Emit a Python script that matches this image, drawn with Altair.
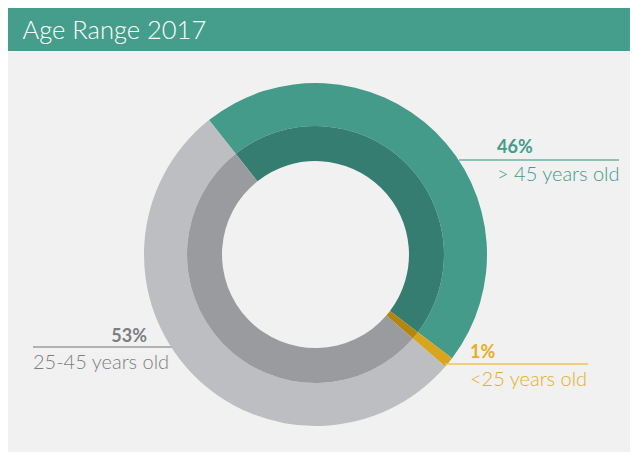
import math
import altair as alt
import pandas as pd

categories = ["> 45 years old", "<25 years old", "25-45 years old"]
values = [46, 1, 53]
pct_labels = ["46%", "1%", "53%"]

outer_colors = ["#449b8a", "#d9a51c", "#bdbec1"]
inner_colors = ["#367d71", "#b3860f", "#9a9b9e"]

df = pd.DataFrame({"cat": categories, "value": values, "idx": list(range(len(values)))})

W, H = 622, 444
CX, CY = 307.5, 246.5
start = math.radians(-38.4)
theta_scale = alt.Scale(range=[start, start + 2 * math.pi])

base = alt.Chart(df)

outer = base.mark_arc(radius=171.5, radius2=128.5).encode(
    theta=alt.Theta("value:Q", stack=True, scale=theta_scale),
    order=alt.Order("idx:Q"),
    color=alt.Color("cat:N", scale=alt.Scale(domain=categories, range=outer_colors), legend=None),
    x=alt.value(CX), y=alt.value(CY),
)
inner = base.mark_arc(radius=128.5, radius2=93.5).encode(
    theta=alt.Theta("value:Q", stack=True, scale=theta_scale),
    order=alt.Order("idx:Q"),
    color=alt.Color("cat:N", scale=alt.Scale(domain=categories, range=inner_colors), legend=None),
    x=alt.value(CX), y=alt.value(CY),
)

one = pd.DataFrame({"a": [0]})
ob = alt.Chart(one)

bar = ob.mark_rect(color="#459d8b").encode(
    x=alt.value(0), x2=alt.value(W), y=alt.value(0), y2=alt.value(43)
)
title = ob.mark_text(text="Age Range 2017", font="Lato", fontWeight=300, fontSize=25.5,
                     color="#ffffff", align="left", baseline="alphabetic").encode(
    x=alt.value(14.5), y=alt.value(31)
)

def label(pct, name, color, lcolor, tx, ty, lx1, lx2, ly, ny, align="left", nx=None):
    p = ob.mark_text(text=pct, font="Lato", fontWeight="bold", fontSize=18, color=color,
                     align=align, baseline="alphabetic").encode(x=alt.value(tx), y=alt.value(ty))
    ln = ob.mark_rule(color=lcolor, strokeWidth=1.5).encode(
        x=alt.value(lx1), x2=alt.value(lx2), y=alt.value(ly))
    n = ob.mark_text(text=name, font="Lato", fontWeight=300, fontSize=20, color=color,
                     align="left", baseline="alphabetic").encode(
        x=alt.value(nx if nx is not None else tx), y=alt.value(ny))
    return [ln, p, n]

l46 = label(pct_labels[0], categories[0], "#449b8a", "#6db3a4", 489, 145, 451, 611, 152, 173)
l1 = label(pct_labels[1], categories[1], "#e6ae25", "#f0c452", 462, 350, 437, 580, 356, 378)
l53 = label(pct_labels[2], categories[2], "#7d7e81", "#9a9b9e", 139, 334, 25, 165, 339, 361,
            align="right", nx=25)

chart = alt.layer(bar, title, l53[0], outer, inner, *l46, *l1, l53[1], l53[2]).resolve_scale(
    color="independent"
).properties(
    width=W, height=H, background="#f0f1f0", padding=0,
    autosize=alt.AutoSizeParams(type="fit", contains="padding"),
).configure_view(stroke=None)

chart.save("out.html", embed_options={"renderer": "svg", "actions": False})
